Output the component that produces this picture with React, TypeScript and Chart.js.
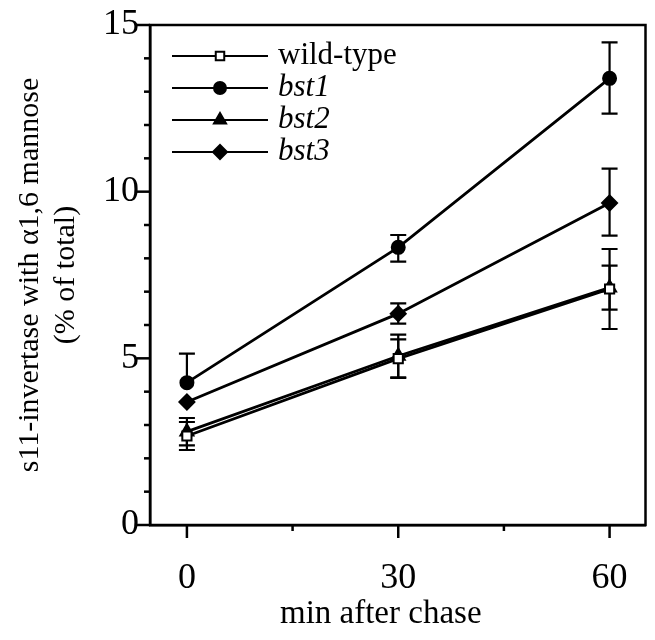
import React, { useEffect, useRef } from "react";
import { Chart, registerables } from "chart.js";
import { drawPoint } from "chart.js/helpers";

Chart.register(...registerables);

const minutes = [0, 30, 60];
const seriesNames = ["wild-type", "bst1", "bst2", "bst3"];
const wildType = [2.67, 4.99, 7.08];
const bst1 = [4.27, 8.33, 13.4];
const bst2 = [2.8, 5.07, 7.12];
const bst3 = [3.69, 6.34, 9.66];
const wildTypeErrUp = [0.42, 0.58, 1.2];
const wildTypeErrDown = [0.42, 0.58, 1.2];
const bst1ErrUp = [0.87, 0.37, 1.08];
const bst1ErrDown = [0, 0.43, 1.06];
const bst2ErrUp = [0.41, 0.64, 0.66];
const bst2ErrDown = [0.41, 0.64, 0.66];
const bst3ErrUp = [0, 0.31, 1.03];
const bst3ErrDown = [0, 0.3, 0.98];
const yTickLabels = [0, 5, 10, 15];
const xTickLabels = [0, 30, 60];
const yMinorTicks = [1, 2, 3, 4, 6, 7, 8, 9, 11, 12, 13, 14];
const xMinorTicks = [15, 45];
const xTitle = "min after chase";

const FONT = "'Liberation Serif', 'Times New Roman', serif";

const styles = [
  { pointStyle: "rect", radius: 6.5, fill: "#ffffff" },
  { pointStyle: "circle", radius: 6.5, fill: "#000000" },
  { pointStyle: "triangle", radius: 7.5, fill: "#000000" },
  { pointStyle: "rectRot", radius: 7.5, fill: "#000000" },
];

const values = [wildType, bst1, bst2, bst3];
const errUps = [wildTypeErrUp, bst1ErrUp, bst2ErrUp, bst3ErrUp];
const errDowns = [wildTypeErrDown, bst1ErrDown, bst2ErrDown, bst3ErrDown];

const errorBarPlugin = {
  id: "errorBars",
  beforeDatasetsDraw(chart: any) {
    const ctx = chart.ctx;
    const xs = chart.scales.x;
    const ys = chart.scales.y;
    ctx.save();
    ctx.strokeStyle = "#000";
    ctx.lineWidth = 2.2;
    values.forEach((vals, si) => {
      vals.forEach((v, i) => {
        const x = xs.getPixelForValue(minutes[i]);
        const yc = ys.getPixelForValue(v);
        const up = errUps[si][i];
        const dn = errDowns[si][i];
        const cap = 8;
        if (up > 0) {
          const yt = ys.getPixelForValue(v + up);
          ctx.beginPath();
          ctx.moveTo(x, yc);
          ctx.lineTo(x, yt);
          ctx.moveTo(x - cap, yt);
          ctx.lineTo(x + cap, yt);
          ctx.stroke();
        }
        if (dn > 0) {
          const yb = ys.getPixelForValue(v - dn);
          ctx.beginPath();
          ctx.moveTo(x, yc);
          ctx.lineTo(x, yb);
          ctx.moveTo(x - cap, yb);
          ctx.lineTo(x + cap, yb);
          ctx.stroke();
        }
      });
    });
    ctx.restore();
  },
  afterDraw(chart: any) {
    const ctx = chart.ctx;
    const xs = chart.scales.x;
    const ys = chart.scales.y;
    const a = chart.chartArea;
    ctx.save();
    ctx.strokeStyle = "#000";
    ctx.lineWidth = 2.5;
    ctx.strokeRect(a.left, a.top, a.right - a.left, a.bottom - a.top);
    yTickLabels.forEach((v) => {
      const y = ys.getPixelForValue(v);
      ctx.beginPath();
      ctx.moveTo(a.left, y);
      ctx.lineTo(a.left - 13, y);
      ctx.stroke();
    });
    yMinorTicks.forEach((v) => {
      const y = ys.getPixelForValue(v);
      ctx.beginPath();
      ctx.moveTo(a.left, y);
      ctx.lineTo(a.left - 6, y);
      ctx.stroke();
    });
    xTickLabels.forEach((v) => {
      const x = xs.getPixelForValue(v);
      ctx.beginPath();
      ctx.moveTo(x, a.bottom);
      ctx.lineTo(x, a.bottom + 13);
      ctx.stroke();
    });
    xMinorTicks.forEach((v) => {
      const x = xs.getPixelForValue(v);
      ctx.beginPath();
      ctx.moveTo(x, a.bottom);
      ctx.lineTo(x, a.bottom + 6);
      ctx.stroke();
    });
    // x-axis title (slightly left of centre, as in the original)
    ctx.fillStyle = "#000";
    ctx.font = "33px " + FONT;
    ctx.textAlign = "center";
    ctx.textBaseline = "middle";
    ctx.fillText(xTitle, (a.left + a.right) / 2 - 17, 614);
    // legend
    const lx0 = a.left + 22;
    const lx1 = a.left + 118;
    const mx = (lx0 + lx1) / 2;
    seriesNames.forEach((name, i) => {
      const y = a.top + 31 + i * 32;
      ctx.strokeStyle = "#000";
      ctx.lineWidth = 2.2;
      ctx.beginPath();
      ctx.moveTo(lx0, y);
      ctx.lineTo(lx1, y);
      ctx.stroke();
      ctx.fillStyle = styles[i].fill;
      ctx.strokeStyle = "#000";
      ctx.lineWidth = 2;
      drawPoint(ctx, { pointStyle: styles[i].pointStyle, radius: styles[i].radius - 0.5, rotation: 0, borderWidth: 2 }, mx, y);
      ctx.fillStyle = "#000";
      ctx.font = (i === 0 ? "" : "italic ") + "31px " + FONT;
      ctx.textBaseline = "middle";
      ctx.textAlign = "left";
      ctx.fillText(name, lx1 + 10, y);
    });
    ctx.restore();
  },
};

export default function App() {
  const ref = useRef<HTMLCanvasElement>(null);
  useEffect(() => {
    document.body.style.margin = "0";
    const datasets = seriesNames.map((name, si) => ({
      label: name,
      data: minutes.map((m, i) => ({ x: m, y: values[si][i] })),
      borderColor: "#000",
      borderWidth: 2.8,
      backgroundColor: styles[si].fill,
      pointBackgroundColor: styles[si].fill,
      pointBorderColor: "#000",
      pointBorderWidth: 2,
      pointStyle: styles[si].pointStyle as any,
      pointRadius: styles[si].radius,
      fill: false,
      tension: 0,
    }));
    const chart = new Chart(ref.current!, {
      type: "line",
      data: { datasets },
      plugins: [errorBarPlugin],
      options: {
        animation: false,
        responsive: false,
        layout: { padding: { left: 0, right: 8, top: 25, bottom: 0 } },
        plugins: { legend: { display: false }, tooltip: { enabled: false } },
        scales: {
          x: {
            type: "linear",
            min: -5.24,
            max: 65.1,
            afterBuildTicks: (s: any) => {
              s.ticks = xTickLabels.map((v) => ({ value: v }));
            },
            afterFit: (s: any) => {
              s.height = 115;
              s.paddingLeft = 0;
              s.paddingRight = 0;
            },
            grid: { display: false, drawTicks: false },
            border: { display: true, color: "#000", width: 2.5 },
            ticks: { color: "#000", font: { family: FONT, size: 36 }, padding: 32, maxRotation: 0 },
            title: { display: false, text: xTitle },
          },
          y: {
            type: "linear",
            min: 0,
            max: 15,
            afterBuildTicks: (s: any) => {
              s.ticks = yTickLabels.map((v) => ({ value: v }));
            },
            afterFit: (s: any) => {
              s.width = 150;
              s.paddingTop = 0;
              s.paddingBottom = 0;
            },
            grid: { display: false, drawTicks: false },
            border: { display: true, color: "#000", width: 2.5 },
            ticks: { color: "#000", font: { family: FONT, size: 36 }, padding: 11 },
            title: {
              display: true,
              text: ["s11-invertase with α1,6 mannose", "(% of total)"],
              color: "#000",
              font: { family: FONT, size: 30 },
              padding: { top: 12, bottom: 0 },
            },
          },
        },
      },
    });
    return () => chart.destroy();
  }, []);
  return (
    <div style={{ width: 655, height: 640, background: "#fff" }}>
      <canvas ref={ref} width={655} height={640} />
    </div>
  );
}
